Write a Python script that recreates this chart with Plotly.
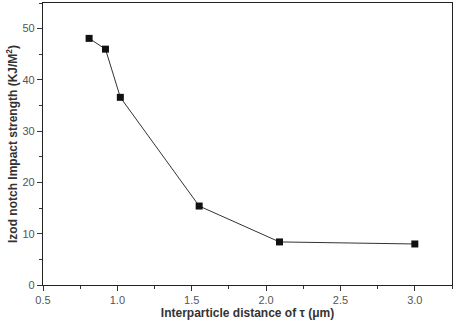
import plotly.graph_objects as go

x_vals = [0.81, 0.92, 1.02, 1.55, 2.09, 3.0]
y_vals = [48.1, 46.0, 36.6, 15.4, 8.4, 8.0]

fig = go.Figure()
fig.add_trace(go.Scatter(
    x=x_vals, y=y_vals, mode="lines+markers",
    line=dict(color="#333333", width=1),
    marker=dict(symbol="square", size=7, color="#111111"),
    showlegend=False,
))

axis_common = dict(
    showgrid=False, zeroline=False, showline=True, linecolor="#222222", linewidth=1.2,
    mirror=True, ticks="outside", ticklen=5, tickcolor="#333333", automargin=False,
    tickfont=dict(family="Liberation Sans, Arial", size=11, color="#555555"),
)

fig.update_layout(
    width=454, height=323,
    margin=dict(l=43, r=2, t=3, b=38),
    plot_bgcolor="white", paper_bgcolor="white",
    xaxis=dict(range=[0.5, 3.25], tickvals=[0.5, 1.0, 1.5, 2.0, 2.5, 3.0],
               ticktext=["0.5", "1.0", "1.5", "2.0", "2.5", "3.0"],
               minor=dict(ticks="outside", ticklen=3, dtick=0.25, tick0=0.5, tickcolor="#333333"),
               title=dict(text="<b>Interparticle distance of τ (μm)</b>",
                          font=dict(family="Liberation Sans, Arial", size=12, color="#333333"),
                          standoff=0),
               **axis_common),
    yaxis=dict(range=[0, 55], tickvals=[0, 10, 20, 30, 40, 50],
               minor=dict(ticks="outside", ticklen=3, dtick=5, tick0=0, tickcolor="#333333"),
               title=dict(text="<b>Izod notch Impact strength (KJ/M<sup>2</sup>)</b>",
                          font=dict(family="Liberation Sans, Arial", size=12, color="#333333"),
                          standoff=2),
               **axis_common),
)

fig.write_html("out.html", config={"displayModeBar": False},
               post_script="document.body.style.margin='0';")
